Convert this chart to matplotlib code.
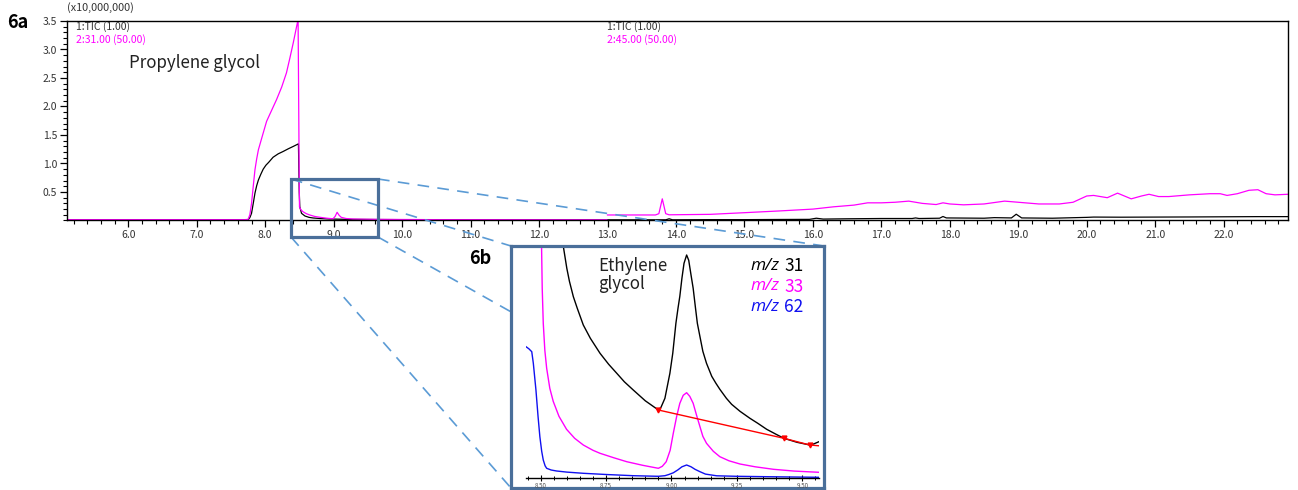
import matplotlib
matplotlib.use('Agg')
import matplotlib.pyplot as plt
from matplotlib.lines import Line2D
from matplotlib.patches import Rectangle
from matplotlib.ticker import MultipleLocator, FormatStrFormatter

plt.rcParams['font.family'] = ['Noto Sans CJK KR', 'DejaVu Sans']

W, H = 1298, 490

# ---- 6a: full chromatogram (x10,000,000) ----
tic_t = [5.10, 7.70, 7.75, 7.775, 7.80, 7.825, 7.85, 7.875, 7.90, 7.935, 7.97, 8.01, 8.05, 8.115,
         8.19, 8.26, 8.34, 8.41, 8.485,
         8.497, 8.505, 8.53, 8.58, 8.64, 8.70, 8.80, 8.94, 9.20, 10.0, 11.0, 12.0, 13.0,
         13.85, 13.90, 13.95, 14.50, 15.0, 15.5, 15.95, 16.05, 16.15, 16.5, 17.0, 17.45,
         17.50, 17.55, 17.85, 17.90, 17.95, 18.5, 18.65, 18.90, 18.97, 19.05, 19.5, 20.0,
         20.1, 20.5, 21.0, 21.5, 22.0, 22.5, 22.94]
tic_v = [0.010, 0.010, 0.015, 0.05, 0.126, 0.30, 0.48, 0.61, 0.71, 0.81, 0.90, 0.97, 1.02, 1.11,
         1.17, 1.21, 1.26, 1.30, 1.345,
         0.50, 0.24, 0.126, 0.079, 0.055, 0.044, 0.035, 0.026, 0.020, 0.015, 0.012, 0.012, 0.012,
         0.012, 0.030, 0.012, 0.015, 0.015, 0.018, 0.020, 0.040, 0.025, 0.030, 0.035, 0.035,
         0.045, 0.035, 0.040, 0.070, 0.045, 0.040, 0.050, 0.045, 0.110, 0.045, 0.040, 0.055,
         0.060, 0.058, 0.060, 0.062, 0.065, 0.068, 0.068]

m31_t = [5.10, 7.70, 7.75, 7.775, 7.80, 7.825, 7.85, 7.875, 7.90, 7.95, 8.02, 8.10, 8.165, 8.24,
         8.31, 8.36, 8.41, 8.48,
         8.495, 8.50, 8.52, 8.55, 8.60, 8.65, 8.72, 8.80, 8.90, 8.99, 9.02, 9.05, 9.08, 9.11,
         9.18, 9.28, 9.60, 10.5, 12.99]
m31_v = [0.015, 0.015, 0.020, 0.10, 0.30, 0.60, 0.89, 1.08, 1.24, 1.45, 1.74, 1.95, 2.12, 2.34,
         2.59, 2.85, 3.12, 3.53,
         1.00, 0.24, 0.19, 0.155, 0.12, 0.097, 0.072, 0.056, 0.040, 0.030, 0.070, 0.144, 0.090, 0.056,
         0.035, 0.026, 0.020, 0.015, 0.012]

m45_t = [13.0, 13.7, 13.75, 13.8, 13.85, 13.9, 14.5, 15.0, 15.5, 16.0, 16.3, 16.6, 16.8, 17.0, 17.2,
         17.4, 17.6, 17.8, 17.9, 18.0, 18.2, 18.5, 18.8, 19.0, 19.3, 19.6, 19.8, 20.0, 20.1, 20.3,
         20.45, 20.65, 20.8, 20.91, 21.05, 21.2, 21.5, 21.8, 21.95, 22.05, 22.2, 22.37, 22.5, 22.62,
         22.75, 22.94]
m45_v = [0.097, 0.097, 0.12, 0.38, 0.12, 0.10, 0.108, 0.137, 0.167, 0.20, 0.24, 0.27, 0.31, 0.31, 0.32,
         0.34, 0.30, 0.28, 0.31, 0.29, 0.275, 0.29, 0.34, 0.32, 0.29, 0.29, 0.32, 0.43, 0.44, 0.40,
         0.48, 0.38, 0.43, 0.46, 0.42, 0.42, 0.45, 0.47, 0.47, 0.44, 0.47, 0.53, 0.54, 0.47,
         0.45, 0.46]

# ---- 6b: zoom on ethylene glycol (arbitrary units) ----
z31_t = [8.578, 8.586, 8.60, 8.61, 8.625, 8.64, 8.663, 8.69, 8.727, 8.76, 8.791, 8.82, 8.854,
         8.90, 8.95, 8.96, 8.975, 8.994, 9.005, 9.017, 9.025, 9.032, 9.04, 9.048, 9.058, 9.066,
         9.075, 9.083, 9.092, 9.099, 9.109, 9.12, 9.134, 9.154, 9.17, 9.185, 9.21, 9.23, 9.262,
         9.30, 9.33, 9.364, 9.40, 9.43, 9.48, 9.529, 9.545, 9.564]
z31_v = [250, 233, 210, 197, 181.6, 170, 153.3, 140, 125, 114, 105, 96.5, 88.3,
         77.5, 68.3, 71, 80, 105, 125, 155, 170, 182, 200, 215, 223.3, 218,
         203, 190, 170, 155, 141.6, 127, 115, 102, 95, 89, 80, 74, 67,
         60, 55, 49, 44, 40, 36, 33.3, 34.5, 36.6]

z33_t = [8.503, 8.506, 8.51, 8.516, 8.523, 8.535, 8.548, 8.57, 8.599, 8.63, 8.663, 8.70, 8.727,
         8.78, 8.829, 8.89, 8.95, 8.965, 8.98, 8.995, 9.007, 9.02, 9.032, 9.045, 9.058, 9.07,
         9.083, 9.096, 9.109, 9.12, 9.134, 9.16, 9.185, 9.22, 9.262, 9.32, 9.39, 9.47, 9.564]
z33_v = [240, 190, 155, 128, 110, 90, 77, 62, 49, 40, 33.3, 28, 25,
         20.5, 16.6, 13, 10, 12, 16.6, 28, 45, 62, 75, 83, 85.6, 82,
         75, 63, 51.6, 42, 35, 27, 21.6, 17.5, 14.3, 11.5, 9, 7.2, 6]

z62_t = [8.444, 8.455, 8.466, 8.472, 8.482, 8.49, 8.497, 8.504, 8.51, 8.517, 8.523, 8.54, 8.561,
         8.60, 8.663, 8.75, 8.854, 8.95, 8.975, 8.99, 9.007, 9.025, 9.04, 9.058, 9.075, 9.09,
         9.109, 9.13, 9.173, 9.25, 9.364, 9.564]
z62_v = [131.6, 129.5, 126.6, 115, 88.3, 62, 41.6, 27, 18.3, 12.5, 10, 8.3, 7.3,
         6.2, 5, 3.8, 2.6, 2.0, 2.6, 3.8, 5.5, 8.5, 11.5, 13.3, 11.5, 9,
         6.6, 4.2, 2.5, 2.0, 1.6, 1.0]

base_t = [8.95, 9.43, 9.529]
base_v = [68.3, 40, 33.3]


def px(x, y):
    return x / W, 1 - y / H


fig = plt.figure(figsize=(W / 100, H / 100), dpi=100)

# main axes
ax = fig.add_axes([66.7 / W, 1 - 220.5 / H, (1288 - 66.7) / W, (220.5 - 21) / H])
ax.plot(tic_t, tic_v, color='black', lw=0.9)
ax.plot(m31_t, m31_v, color='#ff00ff', lw=0.9)
ax.plot(m45_t, m45_v, color='#ff00ff', lw=0.9)
ax.set_xlim(5.10, 22.94)
ax.set_ylim(0, 3.5)
ax.xaxis.set_minor_locator(MultipleLocator(0.2))
ax.xaxis.set_major_formatter(FormatStrFormatter('%.1f'))
ax.set_xticks([t for t in range(6, 23)])
ax.set_yticks([0.5, 1.0, 1.5, 2.0, 2.5, 3.0, 3.5])
ax.yaxis.set_minor_locator(MultipleLocator(0.1))
ax.yaxis.set_major_formatter(FormatStrFormatter('%.1f'))
ax.tick_params(which='major', direction='out', length=5, width=0.9, labelsize=7.5,
               labelcolor='#333333', pad=2)
ax.tick_params(which='minor', direction='out', length=3, width=0.8)
for s in ax.spines.values():
    s.set_linewidth(1.0)

fig.text(*px(67, 8), '(x10,000,000)', fontsize=7.8, color='#333333', va='center')
fig.text(*px(18, 22), '6a', fontsize=13, fontweight='bold', ha='center', va='center')
fig.text(*px(76, 27), '1:TIC (1.00)', fontsize=7.5, color='#333333', va='center')
fig.text(*px(76, 39.5), '2:31.00 (50.00)', fontsize=7.5, color='#ff00ff', va='center')
fig.text(*px(607, 27), '1:TIC (1.00)', fontsize=7.5, color='#333333', va='center')
fig.text(*px(607, 39.5), '2:45.00 (50.00)', fontsize=7.5, color='#ff00ff', va='center')
fig.text(*px(129, 63), 'Propylene glycol', fontsize=12.2, color='#222222', va='center')

# zoom rectangle and connectors
box_col = '#4a6f9a'
x0, y0 = px(291, 237)
x1, y1 = px(378, 179)
fig.add_artist(Rectangle((x0, y0), x1 - x0, y1 - y0, transform=fig.transFigure,
                         fill=False, ec=box_col, lw=2.3, zorder=4))
corners = [((291, 179), (511, 246)), ((378, 179), (824, 246)),
           ((291, 237), (511, 488)), ((378, 237), (824, 488))]
for (a, b) in corners:
    pa, pb = px(*a), px(*b)
    fig.add_artist(Line2D([pa[0], pb[0]], [pa[1], pb[1]], transform=fig.transFigure,
                          color='#5b9bd5', lw=1.2, ls=(0, (7, 5)), zorder=3))

# inset frame
fr = fig.add_axes([511 / W, 1 - 488 / H, (824 - 511) / W, (488 - 246) / H], zorder=5)
fr.set_facecolor('white')
fr.set_xticks([])
fr.set_yticks([])
for s in fr.spines.values():
    s.set_color(box_col)
    s.set_linewidth(2.3)

# inset data axes
ia = fig.add_axes([526 / W, 1 - 478.3 / H, (819 - 526) / W, (478.3 - 248) / H], zorder=6)
ia.patch.set_alpha(0)
ia.plot(z31_t, z31_v, color='black', lw=1.0)
ia.plot(z33_t, z33_v, color='#ff00ff', lw=1.0)
ia.plot(z62_t, z62_v, color='#1010f0', lw=1.0)
ia.plot(base_t + [9.564], base_v + [32.5], color='red', lw=1.0)
ia.plot(base_t, base_v, ls='none', marker='v', ms=3.5, color='red')
ia.set_xlim(8.444, 9.564)
ia.set_ylim(0, 230.3)
for side in ['left', 'right', 'top']:
    ia.spines[side].set_visible(False)
ia.spines['bottom'].set_linewidth(1.0)
ia.set_yticks([])
ia.set_xticks([8.50, 8.75, 9.00, 9.25, 9.50])
ia.xaxis.set_minor_locator(MultipleLocator(0.05))
ia.xaxis.set_major_formatter(FormatStrFormatter('%.2f'))
ia.tick_params(which='major', direction='inout', length=4, width=0.8, labelsize=4.5,
               labelcolor='#555555', pad=1)
ia.tick_params(which='minor', direction='inout', length=3, width=0.7)

fig.text(*px(480, 258), '6b', fontsize=13, fontweight='bold', ha='center', va='center', zorder=7)
fig.text(*px(598, 275), 'Ethylene\nglycol', fontsize=12.2, color='#222222', va='center',
         linespacing=1.05, zorder=7)
for i, (lab, col) in enumerate([('31', 'black'), ('33', '#ff00ff'), ('62', '#1010f0')]):
    yy = 266 + i * 20.5
    fig.text(*px(750, yy), 'm/z', fontsize=12.5, color=col, style='italic',
             family=['Open Sans', 'DejaVu Sans'], va='center', zorder=7)
    fig.text(*px(784, yy), lab, fontsize=12.5, color=col, va='center', zorder=7)

fig.savefig('out.png', dpi=100)
